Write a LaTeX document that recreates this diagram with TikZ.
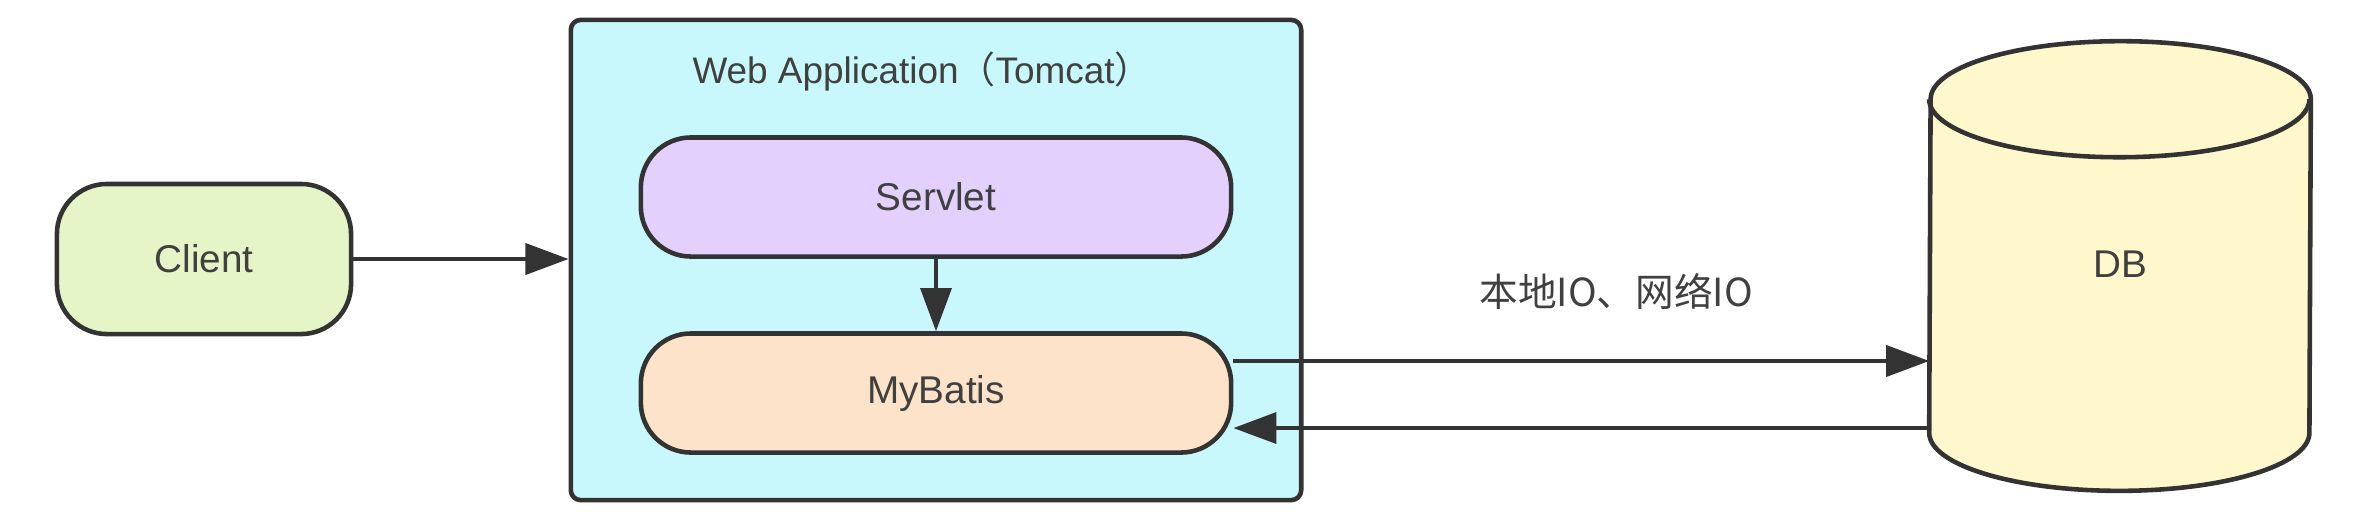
\documentclass[tikz,border=0pt]{standalone}
\usepackage{fontspec}
\setmainfont{Liberation Sans}
\newfontfamily\cjk{Noto Sans CJK SC}
\usetikzlibrary{arrows.meta,positioning,calc}
\definecolor{inkgray}{RGB}{51,51,51}
\definecolor{textgray}{RGB}{64,64,64}
\definecolor{clientgreen}{RGB}{230,245,200}
\definecolor{tomcatcyan}{RGB}{200,248,252}
\definecolor{servletlilac}{RGB}{228,208,252}
\definecolor{mybatispeach}{RGB}{253,227,202}
\definecolor{dbyellow}{RGB}{255,248,204}

\tikzset{
  box/.style={draw=inkgray, line width=1.3pt, text=textgray,
    font=\fontsize{11}{13}\selectfont},
  pill/.style={box, rounded corners=0.5cm, minimum width=5.9cm, minimum height=1.19cm},
  arr/.style={draw=inkgray, line width=1.1pt, -{Triangle[length=0.43cm,width=0.31cm]}}
}

\begin{document}
\begin{tikzpicture}[x=0.01cm,y=-0.01cm]
      \useasboundingbox[fill=white] (0,0) rectangle (2363,526);

      % web application container
      \node[box, fill=tomcatcyan, rounded corners=0.1cm, minimum width=7.3cm,
        minimum height=4.8cm] (tomcat) at (936,260) {};
      \node[text=textgray, font=\fontsize{10.5}{12}\selectfont] (title) at (922,72)
        {Web Application{\cjk （}Tomcat{\cjk ）}};

      \node[pill, fill=servletlilac] (servlet) at (936,197) {Servlet};
      \node[pill, fill=mybatispeach] (mybatis) at (936,393) {MyBatis};

      \node[box, fill=clientgreen, rounded corners=0.5cm, minimum width=2.94cm,
        minimum height=1.5cm] (client) at (204,259) {Client};

      % database cylinder
      \node[minimum width=3.8cm, minimum height=3.32cm, inner sep=0pt] (db) at (2120,266) {};
      \draw[box, fill=dbyellow] (db.south west)
        arc[start angle=180, end angle=360, x radius=1.9cm, y radius=0.58cm]
        -- (db.north east)
        arc[start angle=0, end angle=180, x radius=1.9cm, y radius=0.58cm] -- cycle;
      \draw[box] (db.north west)
        arc[start angle=180, end angle=360, x radius=1.9cm, y radius=0.58cm];
      \node[text=textgray, font=\fontsize{11}{13}\selectfont] (dblabel) at (2120,264) {DB};

      % requests
      \draw[arr] (client.east) -- (client.east -| tomcat.west);
      \draw[arr, line width=0.9pt] (servlet.south) -- (mybatis.north);
      \draw[arr] ([yshift=0.32cm]mybatis.east) -- ([yshift=0.32cm]mybatis.east -| db.west)
        node[pos=0.55, above=0.38cm, text=textgray, font=\cjk\fontsize{11}{13}\selectfont] (io)
        {本地IO、网络IO};
      \draw[arr] ([yshift=-0.35cm]mybatis.east -| db.west) -- ([yshift=-0.35cm]mybatis.east);
    \end{tikzpicture}
\end{document}
